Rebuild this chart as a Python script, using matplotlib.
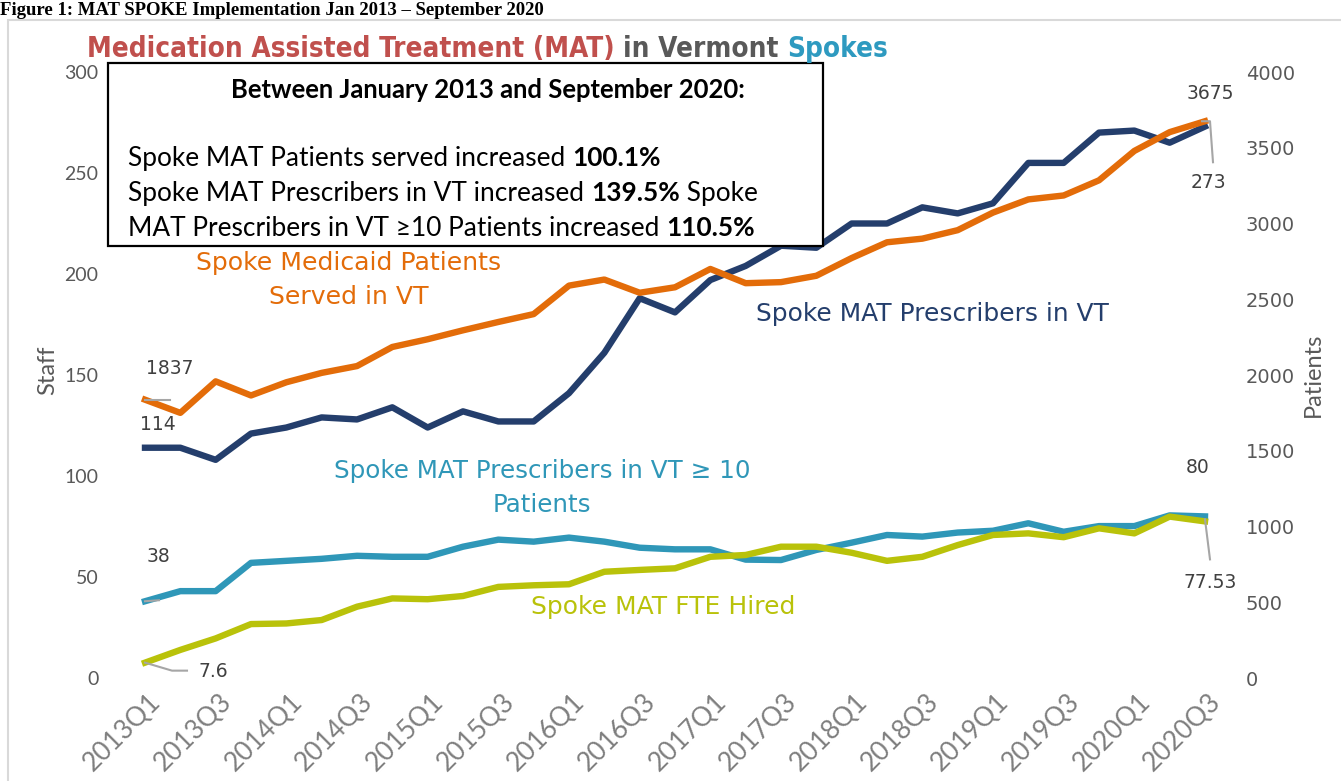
import matplotlib
matplotlib.use("Agg")
import matplotlib.pyplot as plt
from matplotlib.patches import Rectangle
from matplotlib.lines import Line2D
from matplotlib.transforms import ScaledTranslation
from matplotlib import font_manager
from matplotlib.font_manager import FontProperties

# ---------------- data ----------------
quarters = ["2013Q1", "2013Q2", "2013Q3", "2013Q4", "2014Q1", "2014Q2", "2014Q3", "2014Q4",
            "2015Q1", "2015Q2", "2015Q3", "2015Q4", "2016Q1", "2016Q2", "2016Q3", "2016Q4",
            "2017Q1", "2017Q2", "2017Q3", "2017Q4", "2018Q1", "2018Q2", "2018Q3", "2018Q4",
            "2019Q1", "2019Q2", "2019Q3", "2019Q4", "2020Q1", "2020Q2", "2020Q3"]

medicaid_patients = [1837, 1750, 1958, 1865, 1952, 2014, 2059, 2185, 2236, 2295, 2350,
                     2402, 2590, 2630, 2543, 2579, 2700, 2606, 2613, 2655, 2772, 2876,
                     2900, 2956, 3072, 3159, 3185, 3285, 3479, 3603, 3675]
prescribers = [114, 114, 108, 121, 124, 129, 128, 134, 124, 132, 127, 127, 141, 161, 188,
               181, 197, 204, 214, 213, 225, 225, 233, 230, 235, 255, 255, 270, 271, 265, 273]
prescribers_10plus = [38, 43, 43, 57, 58, 59, 60.5, 60, 60, 65, 68.5, 67.5, 69.5, 67.5,
                      64.5, 63.7, 63.7, 58.6, 58.4, 63.4, 67, 70.8, 70, 72, 72.9, 76.6,
                      72.4, 75.2, 75.2, 80.5, 80]
fte_hired = [7.6, 13.9, 19.6, 26.7, 27, 28.7, 35.3, 39.4, 39, 40.6, 45.1, 45.9, 46.4, 52.6,
             53.5, 54.3, 60, 60.9, 65, 65, 62, 58, 60, 65.8, 70.8, 71.6, 69.7, 74.1, 71.6,
             79.9, 77.53]

staff_ticks = [0, 50, 100, 150, 200, 250, 300]
patient_ticks = [0, 500, 1000, 1500, 2000, 2500, 3000, 3500, 4000]

# ---------------- style ----------------
ORANGE = "#E36C09"
NAVY = "#243E6C"
TEAL = "#2F97B8"
YELLOW = "#B9C20A"
GREY = "#595959"
LEADER = "#A6A6A6"
LABEL = "#404040"

W, H = 1341, 781
fig = plt.figure(figsize=(W / 100, H / 100), dpi=100)
fig.patch.set_facecolor("white")
renderer = fig.canvas.get_renderer()


def fx(x):
    return x / W


def fy(y):
    return 1 - y / H


def text_w(s, **kw):
    t1 = fig.text(0, 0, "|" + s + "|", **kw)
    t2 = fig.text(0, 0, "||", **kw)
    w = t1.get_window_extent(renderer).width - t2.get_window_extent(renderer).width
    t1.remove()
    t2.remove()
    return w


def fit(s, target, **kw):
    return 10 * target / text_w(s, fontsize=10, **kw)


def segments(x, base, parts, size, family, **kw):
    for s, weight, color in parts:
        fig.text(fx(x), fy(base), s, fontsize=size, family=family, weight=weight,
                 color=color, ha="left", va="baseline", **kw)
        x += text_w(s, fontsize=size, family=family, weight=weight, **kw)


# ---------------- axes ----------------
step = (1205 - 145) / (len(quarters) - 1)
ax_left = 145 - step
ax_right = 1205 + step
ax = fig.add_axes([fx(ax_left), fy(678), (ax_right - ax_left) / W, (678 - 72) / H])
ax.set_facecolor("none")
x = list(range(len(quarters)))

lw = 4.6
ax.plot(x, prescribers, color=NAVY, lw=lw, clip_on=False, solid_joinstyle="round")
ax.plot(x, prescribers_10plus, color=TEAL, lw=lw, clip_on=False, solid_joinstyle="round")
ax.plot(x, fte_hired, color=YELLOW, lw=lw, clip_on=False, solid_joinstyle="round")
ax.set_xlim(-1, len(quarters))
ax.set_ylim(0, 300)

ax2 = ax.twinx()
ax2.plot(x, medicaid_patients, color=ORANGE, lw=lw, clip_on=False, solid_joinstyle="round")
ax2.set_ylim(0, 4000)

for a in (ax, ax2):
    for sp in a.spines.values():
        sp.set_visible(False)

ax.set_yticks(staff_ticks)
ax.set_yticklabels([str(t) for t in staff_ticks], family="Lato", fontsize=14, color=GREY)
ax.tick_params(axis="y", length=0, pad=8)
ax2.set_yticks(patient_ticks)
ax2.set_yticklabels([str(t) for t in patient_ticks], family="DejaVu Sans", fontsize=14, color=GREY)
ax2.tick_params(axis="y", length=0, pad=4)

ax.set_xticks(x[::2])
ax.set_xticklabels(quarters[::2], family="Lato", fontsize=19, color="#7F7F7F")
ax.tick_params(axis="x", length=0, pad=14)
offset = ScaledTranslation(12 / 100, 0, fig.dpi_scale_trans)
for lab in ax.get_xticklabels():
    lab.set_rotation(45)
    lab.set_ha("right")
    lab.set_va("center")
    lab.set_rotation_mode("anchor")
    lab.set_transform(lab.get_transform() + offset)

ax.set_ylabel("Staff", family="Lato", fontsize=17, color=GREY, va="center")
ax.yaxis.set_label_coords((48 - ax_left) / (ax_right - ax_left), (678 - 370) / 606)
ax2.set_ylabel("Patients", family="Lato", fontsize=17, color=GREY, va="center", rotation=90)
ax2.yaxis.set_label_coords((1313 - ax_left) / (ax_right - ax_left), (678 - 375) / 606)


# ---------------- data labels with leader lines ----------------
def leader(a, xv, yv, offs):
    px0, py0 = a.transData.transform((xv, yv))
    xs = [px0 + dx for dx, dy in offs]
    ys = [py0 + dy for dx, dy in offs]
    fig.add_artist(Line2D(xs, ys, transform=None, color=LEADER, lw=1.5))


def dlabel(a, xv, yv, s, dx, dy):
    a.annotate(s, xy=(xv, yv), xytext=(dx, dy), textcoords="offset pixels",
               ha="center", va="center", fontsize=13.5, color=LABEL, family="DejaVu Sans",
               annotation_clip=False)


last = len(quarters) - 1
dlabel(ax2, 0, medicaid_patients[0], "1837", 25, 31)
leader(ax2, 0, medicaid_patients[0], [(0, 0), (25, 0)])
dlabel(ax, 0, prescribers[0], "114", 13, 23)
dlabel(ax, 0, prescribers_10plus[0], "38", 13, 45)
leader(ax, 0, prescribers_10plus[0], [(0, 0), (14, 1)])
dlabel(ax, 0, fte_hired[0], "7.6", 68, -9)
leader(ax, 0, fte_hired[0], [(0, 0), (27, -8), (42, -8)])
dlabel(ax2, last, medicaid_patients[last], "3675", 5, 28)
leader(ax2, last, medicaid_patients[last], [(-3, 0), (5, 0), (8, -41)])
dlabel(ax, last, prescribers[last], "273", 3, -56)
dlabel(ax, last, prescribers_10plus[last], "80", -7, 49)
dlabel(ax, last, fte_hired[last], "77.53", 5, -61)
leader(ax, last, fte_hired[last], [(0, 2), (5, -38)])

# ---------------- series labels ----------------
ser_kw = dict(family="DejaVu Sans")
s1 = fit("Spoke Medicaid Patients", 306, **ser_kw)
fig.text(fx(349), fy(263), "Spoke Medicaid Patients", fontsize=s1, color=ORANGE, ha="center", va="center", **ser_kw)
fig.text(fx(349), fy(297), "Served in VT", fontsize=s1, color=ORANGE, ha="center", va="center", **ser_kw)
s2 = fit("Spoke MAT Prescribers in VT", 351, **ser_kw)
fig.text(fx(932), fy(314), "Spoke MAT Prescribers in VT", fontsize=s2, color=NAVY, ha="center", va="center", **ser_kw)
s3 = fit("Spoke MAT Prescribers in VT \u2265 10", 416, **ser_kw)
fig.text(fx(542), fy(471), "Spoke MAT Prescribers in VT \u2265 10", fontsize=s3, color=TEAL, ha="center", va="center", **ser_kw)
fig.text(fx(542), fy(505), "Patients", fontsize=s3, color=TEAL, ha="center", va="center", **ser_kw)
s4 = fit("Spoke MAT FTE Hired", 264, **ser_kw)
fig.text(fx(663), fy(607), "Spoke MAT FTE Hired", fontsize=s4, color=YELLOW, ha="center", va="center", **ser_kw)

# ---------------- frame, caption, title ----------------
fig.add_artist(Rectangle((fx(8), -0.05), 1.1, fy(20) + 0.05, transform=fig.transFigure,
                         fill=False, edgecolor="#D9D9D9", lw=1.5, zorder=0))

cap = "Figure 1: MAT SPOKE Implementation Jan 2013 \u2013 September 2020"
fig.text(fx(0), fy(15), cap, fontsize=13.5, family="Liberation Serif", weight="bold",
         color="black", ha="left", va="baseline")

# title: a condensed heavy face if one is installed, otherwise a heavy one
title_file = None
for f in font_manager.fontManager.ttflist:
    name = f.fname.lower()
    if "condensed" in str(f.stretch) and "bold" in name and "oblique" not in name and "italic" not in name:
        title_file = f.fname
        break
if title_file:
    title_kw = dict(fontproperties=FontProperties(fname=title_file))
    title_fam = None
else:
    title_kw = {}
    title_fam = "Lato"

title_parts = [("Medication Assisted Treatment (MAT) ", "#C0504D"),
               ("in Vermont ", GREY),
               ("Spokes", "#2E9AC0")]


def title_w(s, size):
    kw = dict(title_kw)
    if title_fam:
        kw.update(family=title_fam, weight="black")
    t1 = fig.text(0, 0, "|" + s + "|", **kw)
    t1.set_fontsize(size)
    t2 = fig.text(0, 0, "||", **kw)
    t2.set_fontsize(size)
    w = t1.get_window_extent(renderer).width - t2.get_window_extent(renderer).width
    t1.remove()
    t2.remove()
    return w


full_title = "".join(p[0] for p in title_parts)
ts = 10 * 798 / title_w(full_title, 10)
tx = 87
for s, col in title_parts:
    kw = dict(title_kw)
    if title_fam:
        kw.update(family=title_fam, weight="black")
    t = fig.text(fx(tx), fy(57), s, color=col, ha="left", va="baseline", **kw)
    t.set_fontsize(ts)
    tx += title_w(s, ts)

# ---------------- text box ----------------
fig.add_artist(Rectangle((fx(108), fy(246)), (823 - 108) / W, (246 - 63) / H,
                         transform=fig.transFigure, facecolor="white", edgecolor="black",
                         lw=1.6, zorder=3))
box_fam = ["Lato", "DejaVu Sans"]
head = "Between January 2013 and September 2020:"
hs = fit(head, 516, family=box_fam, weight="bold")
fig.text(fx(488), fy(98), head, fontsize=hs, family=box_fam, weight="bold",
         color="black", ha="center", va="baseline", zorder=4)
line1 = [("Spoke MAT Patients served increased ", "normal", "black"), ("100.1%", "bold", "black")]
line2 = [("Spoke MAT Prescribers in VT increased ", "normal", "black"), ("139.5%", "bold", "black"),
         (" Spoke", "normal", "black")]
line3 = [("MAT Prescribers in VT \u226510 Patients increased ", "normal", "black"),
         ("110.5%", "bold", "black")]
tot = sum(text_w(s, fontsize=10, family=box_fam, weight=wt)
          for parts in (line1, line2, line3) for s, wt, c in parts)
bs = 10 * (584 + 604 + 600) / tot
for base, parts in ((166, line1), (201, line2), (236, line3)):
    segments(128, base, parts, bs, box_fam, zorder=4)

fig.savefig("out.png", dpi=100, facecolor="white")
